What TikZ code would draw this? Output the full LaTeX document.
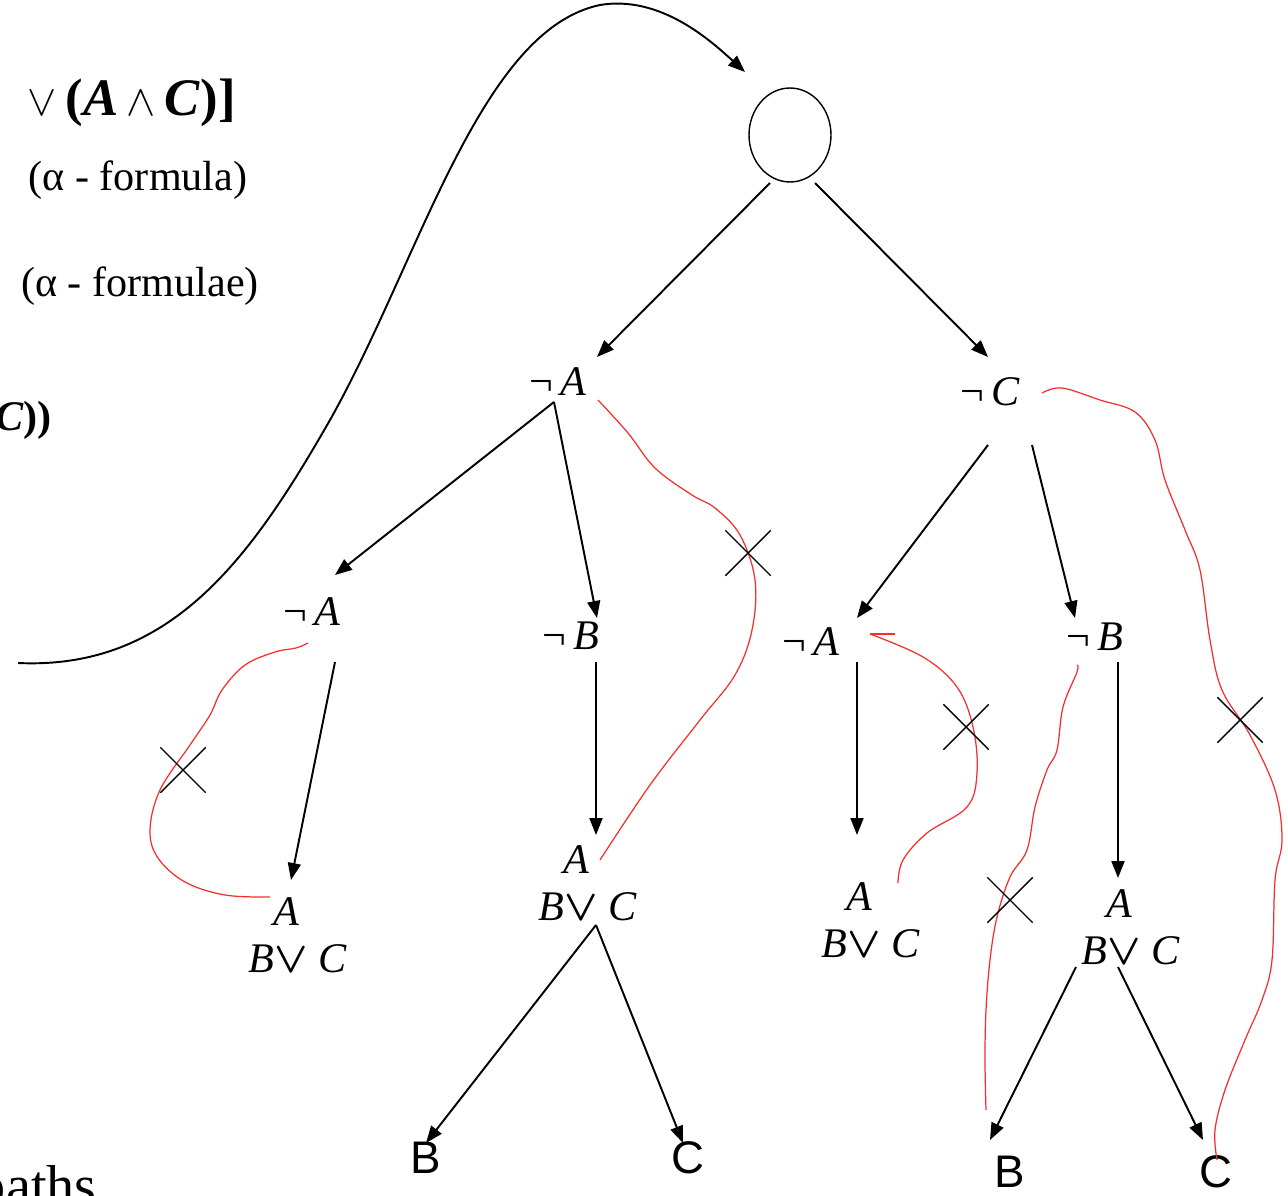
\documentclass[tikz,border=0pt]{standalone}
\usepackage{fontspec}
\setmainfont{Liberation Serif}
\newfontfamily\leaffont{Liberation Sans}
\usepackage{tikz}
\usepackage{xcolor}
\usetikzlibrary{arrows.meta,calc,shapes.geometric,shapes.misc}
\definecolor{strike}{RGB}{245,45,45}
\newcommand{\orsym}{{\boldmath$\vee$}}

\begin{document}
\begin{tikzpicture}[
x=0.02cm, y=-0.02cm,
term/.style={inner sep=0pt, font=\fontsize{24}{27}\selectfont},
stack/.style={term, align=center},
leaf/.style={inner sep=0pt, font=\leaffont\fontsize{26}{28}\selectfont},
arrow/.style={-{Triangle[length=0.34cm, width=0.26cm]}, line width=1.1pt},
redline/.style={draw=strike, line width=0.7pt},
xmark/.style={cross out, draw, line width=0.8pt, minimum size=0.88cm, inner sep=0pt}
]
\useasboundingbox (0,0) rectangle (1288,1196);
\clip (0,0) rectangle (1288,1196);
\node[term, anchor=east, font=\fontsize{30}{32}\selectfont] (head) at (236,103) {\bfseries $\vee$\,(\textit{A}\,$\wedge$\,\textit{C})]};
\node[term] (alpha1) at (138,180) {(α - formula)};
\node[term] (alpha2) at (140,286) {(α - formulae)};
\node[term, anchor=east] (tail) at (52,420) {\bfseries\itshape C\upshape ))};
\node[term, anchor=base east, font=\fontsize{32}{34}\selectfont] (paths) at (97,1204) {paths};
\node[ellipse, draw, line width=0.8pt, minimum width=1.64cm, minimum height=1.88cm] (root) at (790,135) {};
\node[term] (negA) at (558,382) {¬\,\textit{A}};
\node[term] (negC) at (990,392) {¬\,\textit{C}};
\node[term] (negAl) at (312,612) {¬\,\textit{A}};
\node[term] (negB) at (571,636) {¬\,\textit{B}};
\node[term] (negAr) at (811,642) {¬\,\textit{A}};
\node[term] (negBr) at (1095,637) {¬\,\textit{B}};
\node[stack] (s1) at (298,935) {\textit{A}\kern0.55em\\\textit{B}\orsym\ \textit{C}};
\node[stack] (s2) at (588,883) {\textit{A}\kern0.55em\\\textit{B}\orsym\ \textit{C}};
\node[stack] (s3) at (871,920) {\textit{A}\kern0.55em\\\textit{B}\orsym\ \textit{C}};
\node[stack] (s4) at (1131,927) {\textit{A}\kern0.55em\\\textit{B}\orsym\ \textit{C}};
\node[leaf] (b1) at (426,1158) {B};
\node[leaf] (c1) at (688,1158) {C};
\node[leaf] (b2) at (1010,1172) {B};
\node[leaf] (c2) at (1216,1172) {C};
\coordinate (loopstart) at (18,663);
\draw[arrow] (loopstart) .. controls (170,670) and (250,560) .. (330,420)
  .. controls (420,260) and (480,30) .. (600,5)
  .. controls (660,-5) and (710,40) .. ($(root)+(-45,-63)$);
\draw[arrow] ($(root)+(-20,48)$) -- ($(negA)+(39,-25)$);
\draw[arrow] ($(root)+(25,48)$) -- ($(negC)+(-2,-35)$);
\draw[arrow] ($(negA)+(-4,20)$) -- ($(negAl)+(23,-37)$);
\draw[arrow] ($(negA)+(-4,20)$) -- ($(negB)+(26,-18)$);
\draw[arrow] ($(negAl)+(23,50)$) -- ($(s1)+(-7,-55)$);
\draw[arrow] ($(negB)+(25,26)$) -- ($(s2)+(8,-48)$);
\draw[arrow] ($(s2)+(8,42)$) -- ($(b1)+(0,-15)$);
\draw[arrow] ($(s2)+(8,42)$) -- ($(c1)+(-5,-15)$);
\draw[arrow] ($(negC)+(-2,53)$) -- ($(negAr)+(46,-24)$);
\draw[arrow] ($(negC)+(42,53)$) -- ($(negBr)+(-20,-19)$);
\draw[arrow] ($(negAr)+(46,20)$) -- ($(s3)+(-14,-85)$);
\draw[arrow] ($(negBr)+(23,25)$) -- ($(s4)+(-13,-49)$);
\draw[arrow] ($(s4)+(-55,40)$) -- ($(b2)+(-20,-32)$);
\draw[arrow] ($(s4)+(-13,40)$) -- ($(c2)+(-13,-32)$);
\draw[redline] plot[smooth, tension=0.6] coordinates {(598,400) (628,433) (655,468) (692,495) (715,508) (740,535) (755,580) (752,630) (735,675) (700,720) (650,785) (600,860)};
\draw[redline] plot[smooth, tension=0.6] coordinates {(1042,393) (1062,388) (1100,400) (1135,412) (1155,440) (1165,480) (1185,530) (1200,570) (1210,640) (1222,690) (1250,735) (1275,790) (1282,840) (1275,880) (1272,960) (1262,1000) (1245,1040) (1225,1090) (1215,1130) (1217,1160)};
\draw[redline] plot[smooth, tension=0.6] coordinates {(308,643) (296,648) (275,652) (245,665) (222,690) (210,715) (190,745) (160,790) (150,830) (158,858) (185,882) (225,895) (270,897)};
\draw[redline] (895,634) -- (870,634);
\draw[redline] plot[smooth, tension=0.6] coordinates {(870,634) (923,657) (957,687) (973,727) (977,773) (967,807) (927,833) (903,860) (898,883)};
\draw[redline] plot[smooth, tension=0.6] coordinates {(1077,665) (1077,672) (1063,707) (1057,750) (1047,770) (1035,807) (1027,850) (1010,877) (997,917) (990,960) (986,1010) (985,1060) (986,1110)};
\foreach \i/\p in {1/{(748,553)}, 2/{(183,770)}, 3/{(966,727)}, 4/{(1010,900)}, 5/{(1240,720)}}
  \node[xmark] (cross\i) at \p {};
\end{tikzpicture}
\end{document}
